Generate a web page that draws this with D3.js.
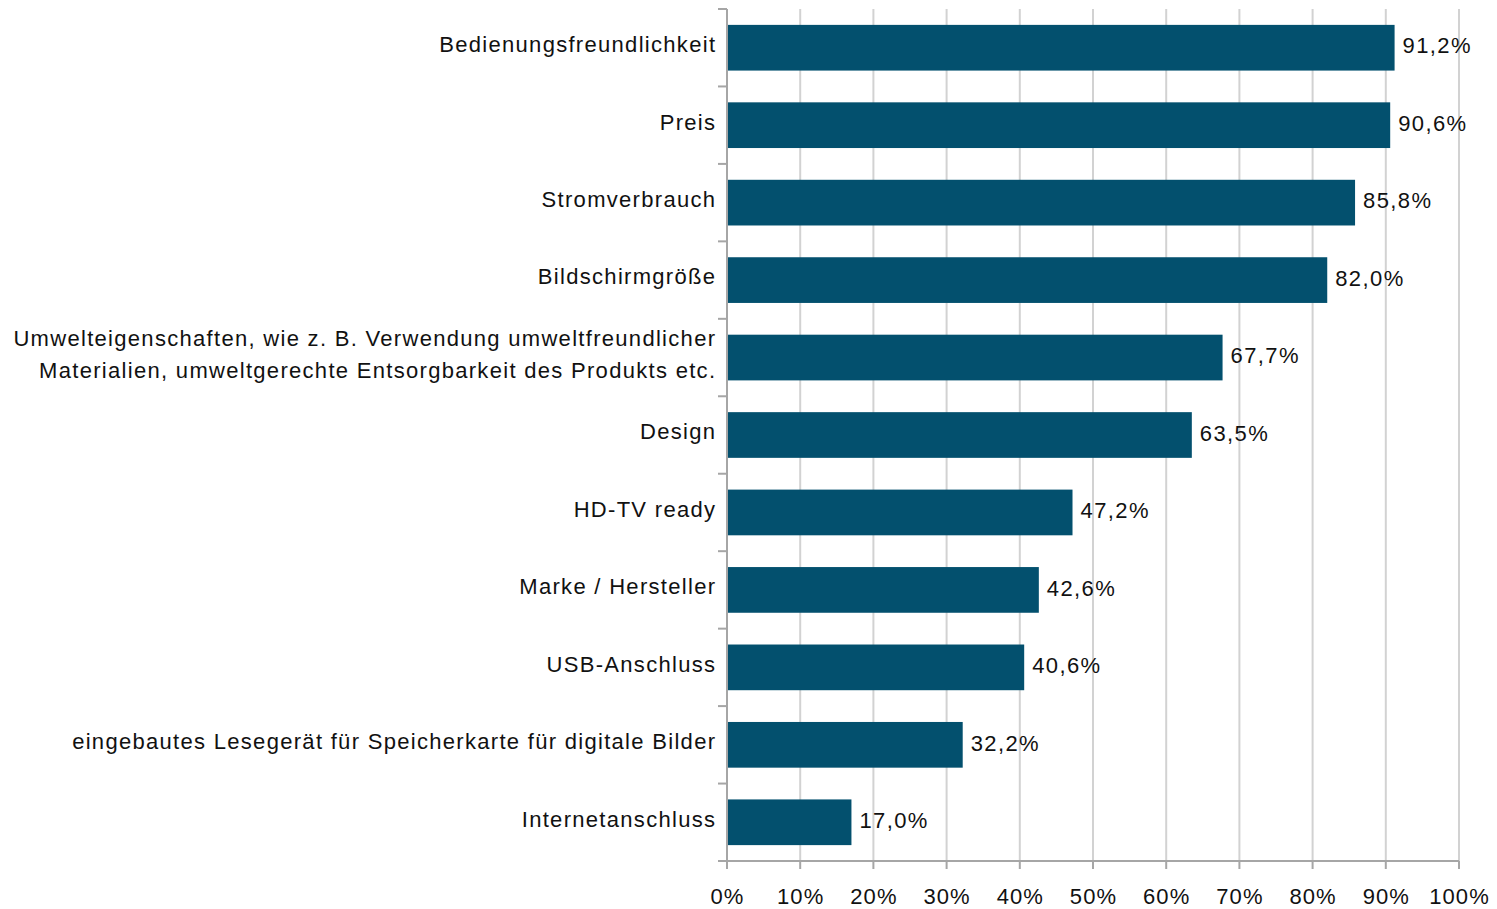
<!DOCTYPE html>
<html>
<head>
<meta charset="utf-8">
<script src="https://cdn.jsdelivr.net/npm/d3@7"></script>
<style>
  body { margin: 0; background: #fff; }
  text { font-family: "Liberation Sans", Arial, sans-serif; fill: #111; }
</style>
</head>
<body>
<div id="chart"></div>
<script>
// data
var categories = [
  ["Bedienungsfreundlichkeit"],
  ["Preis"],
  ["Stromverbrauch"],
  ["Bildschirmgröße"],
  ["Umwelteigenschaften, wie z. B. Verwendung umweltfreundlicher", "Materialien, umweltgerechte Entsorgbarkeit des Produkts etc."],
  ["Design"],
  ["HD-TV ready"],
  ["Marke / Hersteller"],
  ["USB-Anschluss"],
  ["eingebautes Lesegerät für Speicherkarte für digitale Bilder"],
  ["Internetanschluss"]
];
var values = [91.2, 90.6, 85.8, 82.0, 67.7, 63.5, 47.2, 42.6, 40.6, 32.2, 17.0];
var tickValues = [0, 10, 20, 30, 40, 50, 60, 70, 80, 90, 100];

var W = 1497, H = 909;
var margin = {top: 9, right: 38, bottom: 48, left: 727},
    width = W - margin.left - margin.right,
    height = H - margin.top - margin.bottom;

var LS = 1.3; // Excel-like slightly wide letter spacing

var svg = d3.select("#chart").append("svg")
    .attr("width", W)
    .attr("height", H)
  .append("g")
    .attr("transform", "translate(" + margin.left + "," + margin.top + ")");

var x = d3.scaleLinear().domain([0, 100]).range([0, width]);
var y = d3.scaleBand()
    .domain(d3.range(categories.length))
    .range([0, height])
    .paddingInner(0.41)
    .paddingOuter(0.205);

// gridlines
svg.append("g")
  .selectAll("line")
  .data(tickValues.slice(1))
  .enter().append("line")
    .attr("x1", d => x(d)).attr("x2", d => x(d))
    .attr("y1", 0).attr("y2", height)
    .attr("stroke", "#d2d2d2")
    .attr("stroke-width", 2);

// bars
svg.append("g")
  .selectAll("rect")
  .data(values)
  .enter().append("rect")
    .attr("x", 0)
    .attr("y", (d, i) => y(i))
    .attr("width", d => x(d))
    .attr("height", y.bandwidth())
    .attr("fill", "#03506e");

// value labels
svg.append("g")
  .selectAll("text")
  .data(values)
  .enter().append("text")
    .attr("x", d => x(d) + 8)
    .attr("y", (d, i) => y(i) + y.bandwidth() / 2)
    .attr("dy", "0.26em")
    .attr("font-size", 22)
    .attr("letter-spacing", 1.4)
    .text(d => d.toFixed(1).replace(".", ",") + "%");

// y axis: line + ticks at band boundaries
var step = height / categories.length;
var yAxis = svg.append("g");
yAxis.append("line")
    .attr("x1", 0).attr("x2", 0).attr("y1", 0).attr("y2", height + 8)
    .attr("stroke", "#a6a6a6").attr("stroke-width", 2);
yAxis.selectAll(".yt")
  .data(d3.range(categories.length + 1))
  .enter().append("line")
    .attr("x1", -9).attr("x2", 0)
    .attr("y1", d => d * step).attr("y2", d => d * step)
    .attr("stroke", "#a6a6a6").attr("stroke-width", 2);

// category labels
var labels = svg.append("g")
  .selectAll("text")
  .data(categories)
  .enter().append("text")
    .attr("text-anchor", "end")
    .attr("font-size", 22)
    .attr("letter-spacing", LS)
    .attr("transform", (d, i) => "translate(" + (-12 + LS) + "," + (y(i) + y.bandwidth() / 2) + ")");
labels.selectAll("tspan")
  .data(d => d.map((t, k) => ({t: t, k: k, n: d.length})))
  .enter().append("tspan")
    .attr("x", 0)
    .attr("y", d => (d.k - (d.n - 1) / 2) * 32)
    .attr("dy", "0.2em")
    .text(d => d.t);

// x axis
var xAxis = svg.append("g").attr("transform", "translate(0," + height + ")");
xAxis.append("line")
    .attr("x1", -9).attr("x2", width).attr("y1", 0).attr("y2", 0)
    .attr("stroke", "#a6a6a6").attr("stroke-width", 2);
xAxis.selectAll(".xt")
  .data(tickValues)
  .enter().append("line")
    .attr("x1", d => x(d)).attr("x2", d => x(d))
    .attr("y1", 0).attr("y2", 8)
    .attr("stroke", "#a6a6a6").attr("stroke-width", 2);
xAxis.selectAll("text")
  .data(tickValues)
  .enter().append("text")
    .attr("x", d => x(d) + 0.5)
    .attr("y", 43)
    .attr("text-anchor", "middle")
    .attr("font-size", 22)
    .attr("letter-spacing", 1.1)
    .text(d => d + "%");
</script>
</body>
</html>
